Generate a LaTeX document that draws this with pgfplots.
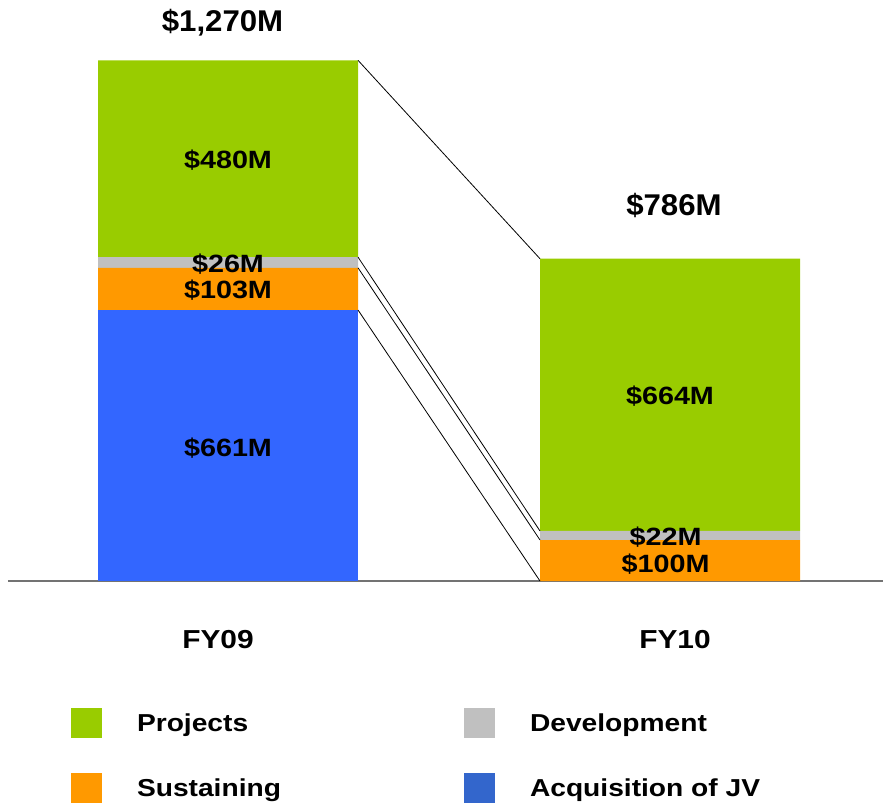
\documentclass[border=0pt]{standalone}
\usepackage{pgfplots}
\pgfplotsset{compat=1.18}
\usepackage{fontspec}
\setmainfont{Liberation Sans}
\newfontfamily\topf{Liberation Sans}[FakeStretch=1.04]
\newfontfamily\barf{Liberation Sans}[FakeStretch=1.15]
\definecolor{proj}{HTML}{99CC00}
\definecolor{dev}{HTML}{C0C0C0}
\definecolor{sus}{HTML}{FF9900}
\definecolor{acq}{HTML}{3366FF}
\definecolor{acqleg}{HTML}{3366CC}
\pgfplotsset{base/.style={
  scale only axis, width=875pt, height=581pt,
  xmin=-0.49774, xmax=1.48190, ymin=0, ymax=1417.07,
  enlargelimits=false, xtick=\empty, ytick=\empty, clip=false}}
\tikzset{
  toplab/.style={font=\topf\bfseries\fontsize{30}{36}\selectfont, inner sep=0pt},
  barlab/.style={font=\barf\bfseries\fontsize{25}{30}\selectfont, inner sep=0pt},
  catlab/.style={font=\barf\bfseries\fontsize{26}{31}\selectfont, inner sep=0pt}}
\begin{document}
\begin{tikzpicture}
\useasboundingbox (-8pt,-228pt) rectangle (875pt,581pt);
\begin{axis}[base, ybar stacked, bar width=0.58824,
  axis x line=bottom, axis y line=none,
  x axis line style={-, draw=black!55, line width=1.5pt}]
\addplot[fill=acq, draw=none] coordinates {(0,661) (1,0)};
\addplot[fill=sus, draw=none] coordinates {(0,103) (1,100)};
\addplot[fill=dev, draw=none] coordinates {(0,26) (1,22)};
\addplot[fill=proj, draw=none] coordinates {(0,480) (1,664)};
\end{axis}
\begin{axis}[base, axis lines=none,
  legend columns=2, legend cell align=left,
  legend image code/.code={\fill[#1, draw=none] (0pt,-15pt) rectangle (31pt,15pt);},
  legend style={draw=none, fill=none, inner sep=0pt, outer sep=0pt,
    at={(axis cs:-0.3552,-309.8)}, anchor=north west,
    font=\barf\bfseries\fontsize{24.5}{29}\selectfont,
    nodes={inner sep=0pt}, row sep=35pt,
    /tikz/every odd column/.append style={column sep=35pt},
    /tikz/every even column/.append style={column sep=183pt}}]
\addplot[black, line width=0.8pt, forget plot] coordinates {(0.29412,1270) (0.70588,786)};
\addplot[black, line width=0.8pt, forget plot] coordinates {(0.29412,790) (0.70588,122)};
\addplot[black, line width=0.8pt, forget plot] coordinates {(0.29412,764) (0.70588,100)};
\addplot[black, line width=0.8pt, forget plot] coordinates {(0.29412,661) (0.70588,0)};
\addlegendimage{fill=proj}
\addlegendentry{Projects}
\addlegendimage{fill=dev}
\addlegendentry{Development}
\addlegendimage{fill=sus}
\addlegendentry{Sustaining}
\addlegendimage{fill=acqleg}
\addlegendentry{Acquisition of JV}
\node[toplab] at (axis cs:-0.0124,1362) {\$1,270M};
\node[toplab] at (axis cs:1.009,915) {\$786M};
\node[barlab] at (axis cs:0,1027) {\$480M};
\node[barlab] at (axis cs:0,772) {\$26M};
\node[barlab] at (axis cs:0,710) {\$103M};
\node[barlab] at (axis cs:0,323) {\$661M};
\node[barlab] at (axis cs:1,451) {\$664M};
\node[barlab] at (axis cs:0.99,107) {\$22M};
\node[barlab] at (axis cs:0.99,42) {\$100M};
\node[catlab] at (axis cs:-0.0226,-143.9) {FY09};
\node[catlab] at (axis cs:1.0113,-143.9) {FY10};
\end{axis}
\end{tikzpicture}
\end{document}
